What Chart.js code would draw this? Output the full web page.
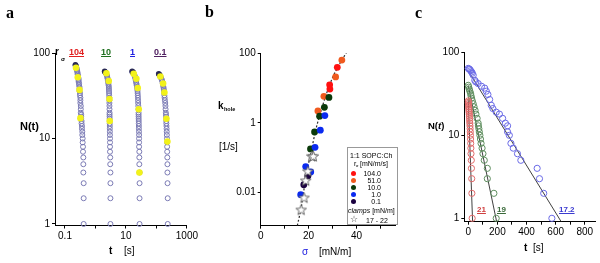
<!DOCTYPE html>
<html>
<head>
<meta charset="utf-8">
<script src="https://cdn.jsdelivr.net/npm/chart.js@4.4.1/dist/chart.umd.min.js"></script>
<style>
  body { margin: 0; background: #fff; }
  #fig { position: relative; width: 600px; height: 263px; overflow: hidden; font-family: "Liberation Sans", Arial, sans-serif; color: #000; }
  #fig canvas { position: absolute; top: 0; }
  .t { position: absolute; white-space: nowrap; line-height: 1; font-size: 10px; }
  .pl { font-family: "Liberation Serif", serif; font-weight: bold; font-size: 16px; }
  .b { font-weight: bold; }
  .u { text-decoration: underline; }
  .lg { position: absolute; left: 347px; top: 147px; width: 51px; height: 78px; border: 1px solid #999; box-sizing: border-box; }
  .lt { position: absolute; white-space: nowrap; line-height: 1; font-size: 7px; }
  .dot { position: absolute; width: 5px; height: 5px; border-radius: 50%; }
</style>
</head>
<body>
<div id="fig">
  <canvas id="chartA" width="200" height="263" style="left:0"></canvas>
  <canvas id="chartB" width="200" height="263" style="left:200px"></canvas>
  <canvas id="chartC" width="200" height="263" style="left:400px"></canvas>

  <!-- panel a -->
  <div class="t pl" style="left:6px;top:5px">a</div>
  <div class="t b" style="left:55px;top:47px">r</div>
  <div class="t b" style="left:61px;top:56px;font-size:6px">σ</div>
  <div class="t b u" style="left:69px;top:48px;font-size:9px;color:#e02020">104</div>
  <div class="t b u" style="left:101px;top:48px;font-size:9px;color:#207020">10</div>
  <div class="t b u" style="left:130px;top:48px;font-size:9px;color:#2020e0">1</div>
  <div class="t b u" style="left:154px;top:48px;font-size:9px;color:#502060">0.1</div>
  <div class="t b" style="left:20px;top:121px;font-size:11px">N(t)</div>
  <div class="t b" style="left:109px;top:246px">t</div>
  <div class="t" style="left:124px;top:246px">[s]</div>

  <!-- panel b -->
  <div class="t pl" style="left:205px;top:4px">b</div>
  <div class="t b" style="left:218px;top:101px">k</div>
  <div class="t b" style="left:224px;top:107px;font-size:5.5px">hole</div>
  <div class="t" style="left:219px;top:142px">[1/s]</div>
  <div class="t" style="left:302px;top:247px;color:#2020e0">σ</div>
  <div class="t" style="left:319px;top:247px">[mN/m]</div>
  <div class="lg"></div>
  <div class="lt" style="left:350px;top:152px">1:1 SOPC:Ch</div>
  <div class="lt" style="left:354px;top:160px">r</div>
  <div class="lt" style="left:356px;top:164px;font-size:4px">σ</div>
  <div class="lt" style="left:360px;top:160px">[mN/m/s]</div>
  <div class="dot" style="left:351px;top:171px;background:#ff1010"></div>
  <div class="lt" style="left:363px;top:170px;width:18px;text-align:right">104.0</div>
  <div class="dot" style="left:351px;top:178px;background:#f05a1e"></div>
  <div class="lt" style="left:363px;top:177px;width:18px;text-align:right">51.0</div>
  <div class="dot" style="left:351px;top:185px;background:#0a3a0a"></div>
  <div class="lt" style="left:363px;top:184px;width:18px;text-align:right">10.0</div>
  <div class="dot" style="left:351px;top:192px;background:#0a2af0"></div>
  <div class="lt" style="left:363px;top:191px;width:18px;text-align:right">1.0</div>
  <div class="dot" style="left:351px;top:199px;background:#1a0040"></div>
  <div class="lt" style="left:363px;top:198px;width:18px;text-align:right">0.1</div>
  <div class="lt" style="left:348px;top:207px"><i>clamps</i> [mN/m]</div>
  <div class="lt" style="left:350px;top:215px;font-size:9px;color:#444">☆</div>
  <div class="lt" style="left:366px;top:217px">17 - 22</div>

  <!-- panel c -->
  <div class="t pl" style="left:415px;top:5px">c</div>
  <div class="t b" style="left:428px;top:121px;font-size:9.5px">N(<i>t</i>)</div>
  <div class="t b u" style="left:477px;top:206px;font-size:8px;color:#d04040">21</div>
  <div class="t b u" style="left:497px;top:206px;font-size:8px;color:#3a6a3a">19</div>
  <div class="t b u" style="left:559px;top:206px;font-size:8px;color:#3a3ad0">17.2</div>
  <div class="t b" style="left:524px;top:243px">t</div>
  <div class="t" style="left:533px;top:243px">[s]</div>
</div>

<script>
// ---- panel a: remaining holes N vs time, four ramp rates ----
const rankA = [1,2,3,4,5,6,7,8,9,10,11,12,13,14,15,16,17,18,19,20,22,24,26,28,30,32,34,36,38,40,42,44,46,48,50,52,54,56,58,60,62,64,66,68,70,72];
const tA104 = [0.41,0.41,0.41,0.40,0.40,0.40,0.39,0.39,0.38,0.38,
               0.37,0.37,0.36,0.36,0.35,0.35,0.34,0.34,0.34,0.33,
               0.33,0.33,0.32,0.32,0.32,0.31,0.31,0.30,0.30,0.30,
               0.29,0.29,0.28,0.28,0.28,0.27,0.27,0.26,0.26,
               0.255,0.25,0.245,0.24,0.235,0.23,0.22];
const tA10 = [3.1,3.1,3.1,3.1,3.05,3.05,3.0,3.0,3.0,3.0,
              2.98,2.97,2.96,2.95,2.94,2.93,2.92,2.91,2.9,2.9,
              2.89,2.88,2.87,2.86,2.85,2.82,2.8,2.78,2.76,2.74,
              2.7,2.65,2.6,2.55,2.5,2.45,2.4,2.3,2.2,2.05];
const tA1 = [28,28,28,28,27.5,27.5,27.5,27,27,27,
             27,26.8,26.6,26.5,26.4,26.3,26.2,26.1,26,26,
             25.8,25.5,25.2,25,24.8,24.5,24.2,24,23.5,23,
             22.5,22,21.5,21,20.5,20,19.5,18.5,17.5,16];
const tA01 = [235,235,232,230,230,228,226,225,224,222,
              220,218,216,214,212,211,210,208,206,204,
              200,198,195,190,186,183,180,177,174,170,
              166,162,158,152,146,140,132,122];
const yellowT = [0.23,0.263,0.30,0.32, 2.29,2.73,2.88,2.94, 18,22,24.4,26.3,27.7, 135,166,183,213,229];
const yellowN = [67,52,37,17.3, 58,47,29,16, 57,50,39,22,4, 53,44,34.5,17,9.2];
const darkT = [0.22,0.225,0.232, 2.0,2.08,2.15, 16,16.8,17.5, 119,124,130];
const darkN = [73,71,69, 61,60,59, 61,60,59, 57,56,55];
const ticksAx = [0.1,1,10,100,1000], labelsAx = [0.1,10,1000];
const ticksAy = [1,10,100];

// ---- panel b: hole rate k vs tension sigma ----
const sig104 = [32.0,28.8,28.9];          const k104 = [39.5,12.4,9.4];
const sig51 = [33.9,31.3,26.4,23.9];      const k51 = [64,21,5.8,2.2];
const sig10 = [28.5,26.6,24.6,22.5,20.8]; const k10 = [5.4,2.8,1.56,0.55,0.18];
const sig1 = [26.8,24.9,22.7,18.8,20.9,16.7]; const k1 = [1.63,0.62,0.2,0.056,0.039,0.0087];
const sig01 = [19.7,18.0];                const k01 = [0.030,0.0168];
const sigClamp = [21.3,22.0,19.7,18.8,18.1,16.9]; const kClamp = [0.11,0.11,0.041,0.022,0.0071,0.0032];
const fitSig = [15.3,17,19,21,23,25,27.5,30,33,36.2];
const fitK = [0.00112,0.004,0.032,0.14,0.63,2,7,20,50,115];
const ticksBx = [0,10,20,30,40,50], labelsBx = [0,20,40];
const ticksBy = [0.01,1,100];

// ---- panel c: N vs time at clamped tension ----
const nC21 = [1,2,3,4,5,6,7,8,9,10,11,12,13,14,15,16,17,18,19,20,21,22,23,24,25,26];
const tC21 = [27,25,24,22,21,19,18,17,16,15,14,13,12,11,10,9,8,7,6,5,4,3,2,1.5,1,0.5];
const nC19 = [1,2,3,4,5,6,7,8,9,10,11,12,13,14,16,18,20,22,24,26,28,30,32,34,36,38,40];
const tC19 = [192,176,131,131,110,101,95,88,84,80,76,73,70,68,61,53,47,40,34,28,23,19,16,11,7,3,0];
const nC17 = [1,2,3,4,5,6,7,8,10,11,13,14,16,18,19,21,23,27,31,34,37,39,42,44,46,53,56,58,60,62,63,64];
const tC17 = [574,518,489,473,361,338,309,293,282,270,270,255,236,214,192,169,158,147,135,124,113,91,68,52,45,34,28,23,17,11,6,0];
const fit21T = [0,30],  fit21N = [27,0.91];
const fit19T = [0,195], fit19N = [40,0.91];
const fit17T = [0,638], fit17N = [60,0.91];
const ticksCx = [0,100,200,300,400,500,600,700,800], labelsCx = [0,200,400,600,800];
const ticksCy = [1,10,100];

const FONT = '"Liberation Sans", Arial, sans-serif';
const pts = (xs, ys) => xs.map((x, i) => ({ x: x, y: ys[i] }));

function axis(type, vertical, min, max, tickVals, labelVals, size) {
    return {
        type: type,
        min: min,
        max: max,
        afterBuildTicks: s => { s.ticks = tickVals.map(v => ({ value: v })); },
        afterFit: vertical ? s => { s.width = size; } : s => { s.height = size; },
        ticks: {
            autoSkip: false, maxRotation: 0, color: '#000', padding: 2,
            font: { family: FONT, size: 10 },
            callback: v => labelVals.includes(v) ? String(v) : ''
        },
        grid: { drawOnChartArea: false, tickLength: 3, color: '#000' },
        border: { color: '#000', width: 1 }
    };
}

function makeChart(id, datasets, xAxis, yAxis, padding) {
    return new Chart(document.getElementById(id), {
        type: 'scatter',
        data: { datasets: datasets },
        options: {
            responsive: false,
            animation: false,
            devicePixelRatio: 1,
            events: [],
            layout: { padding: padding },
            plugins: { legend: { display: false }, tooltip: { enabled: false } },
            scales: { x: xAxis, y: yAxis }
        }
    });
}

function openSeries(data, color, r) {
    return { data: data, pointRadius: r, borderWidth: 1, pointBorderColor: color,
             pointBackgroundColor: 'rgba(0,0,0,0)', clip: false };
}
function filledSeries(data, color, r) {
    return { data: data, pointRadius: r, borderWidth: 0, pointBackgroundColor: color,
             pointBorderColor: color, clip: false };
}
function fitLine(data, dash, width) {
    return { type: 'line', data: data, showLine: true, borderColor: '#2a2a2a', borderWidth: width,
             borderDash: dash, pointRadius: 0, fill: false, cubicInterpolationMode: 'monotone' };
}

// open star marker for the clamp points
const star = document.createElement('canvas');
star.width = 13; star.height = 13;
(function () {
    const c = star.getContext('2d');
    c.beginPath();
    for (let i = 0; i < 10; i++) {
        const r = i % 2 ? 2.3 : 5.5;
        const a = -Math.PI / 2 + i * Math.PI / 5;
        c.lineTo(6.5 + r * Math.cos(a), 6.8 + r * Math.sin(a));
    }
    c.closePath();
    c.fillStyle = '#fff';
    c.fill();
    c.strokeStyle = '#555';
    c.lineWidth = 0.9;
    c.stroke();
})();

// panel a
makeChart('chartA', [
    filledSeries(pts(yellowT, yellowN), '#f2f21a', 3.3),
    filledSeries(pts(darkT, darkN), '#2a2a55', 2.8),
    openSeries(pts(tA104, rankA), '#7a7ab4', 2.5),
    openSeries(pts(tA10, rankA), '#7a7ab4', 2.5),
    openSeries(pts(tA1, rankA), '#7a7ab4', 2.5),
    openSeries(pts(tA01, rankA), '#7a7ab4', 2.5)
],
    axis('logarithmic', false, 0.047, 1000, ticksAx, labelsAx, 20),
    axis('logarithmic', true, 0.96, 100, ticksAy, ticksAy, 30),
    { left: 25, right: 13, top: 53, bottom: 17.5 });

// panel b
makeChart('chartB', [
    { data: pts(sigClamp, kClamp), pointStyle: star, clip: false },
    filledSeries(pts(sig01, k01), '#1a0040', 3.4),
    filledSeries(pts(sig1, k1), '#0a2af0', 3.4),
    filledSeries(pts(sig10, k10), '#0a3a0a', 3.4),
    filledSeries(pts(sig51, k51), '#f05a1e', 3.4),
    filledSeries(pts(sig104, k104), '#ff1010', 3.4),
    fitLine(pts(fitSig, fitK), [2, 2], 1.2)
],
    axis('linear', false, 0, 56.1, ticksBx, labelsBx, 20),
    axis('logarithmic', true, 0.00112, 100, ticksBy, ticksBy, 30),
    { left: 30.7, right: 1, top: 53.3, bottom: 17.3 });

// panel c
makeChart('chartC', [
    openSeries(pts(tC21, nC21), '#e06a6a', 3.1),
    openSeries(pts(tC19, nC19), '#5e8e5e', 3.1),
    openSeries(pts(tC17, nC17), '#6a6ae6', 3.1),
    fitLine(pts(fit21T, fit21N), [], 0.9),
    fitLine(pts(fit19T, fit19N), [], 0.9),
    fitLine(pts(fit17T, fit17N), [], 0.9)
],
    axis('linear', false, -27, 870, ticksCx, labelsCx, 20),
    axis('logarithmic', true, 0.91, 100, ticksCy, ticksCy, 30),
    { left: 34.3, right: 3, top: 52.3, bottom: 21.3 });
</script>
</body>
</html>
